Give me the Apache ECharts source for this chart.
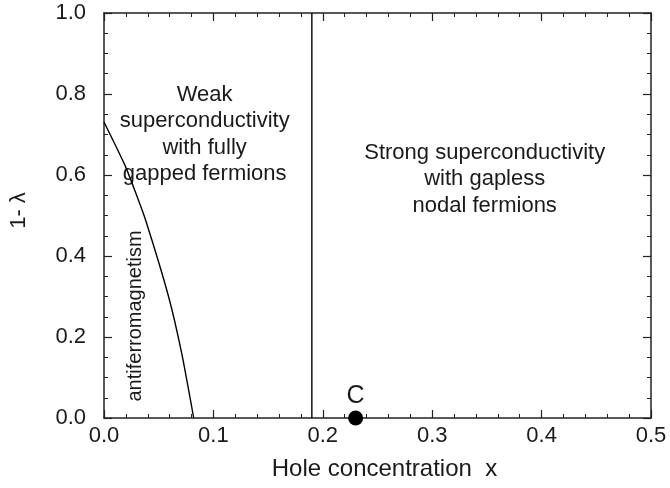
<!DOCTYPE html>
<html><head><meta charset="utf-8">
<script src="https://cdn.jsdelivr.net/npm/echarts@6/dist/echarts.min.js"></script>
<style>html,body{margin:0;padding:0;background:#fff}#c{width:670px;height:488px}</style>
</head><body><div id="c"></div>
<script>
// AF boundary curve (x, 1-lambda)
const afX = [0.0, 0.019, 0.028, 0.038, 0.059, 0.071, 0.082];
const afY = [0.731, 0.625, 0.563, 0.489, 0.300, 0.160, 0.0];
// vertical boundary
const boundaryX = 0.19;
const boundaryY = [0, 1];
// critical point
const pointC = [0.23, 0.0];
const pointCLabel = "C";
// annotations
const annoText = ["Weak\nsuperconductivity\nwith fully\ngapped fermions", "Strong superconductivity\nwith gapless\nnodal fermions"];
const annoPos = [[0.092, 0.700], [0.348, 0.590]];
const afLabel = "antiferromagnetism";
const afLabelPos = [0.029, 0.252];
const xTicks = [0, 0.1, 0.2, 0.3, 0.4, 0.5];
const yTicks = [0, 0.2, 0.4, 0.6, 0.8, 1.0];

const FONT = "Liberation Sans, Arial, sans-serif";
const TXT = '#1a1a1a';
const chart = echarts.init(document.getElementById('c'));
const axisCommon = {
  type: 'value',
  axisLine: {show: true, onZero: false, lineStyle: {color: '#222', width: 1.5}},
  axisTick: {show: true, inside: true, length: 8, lineStyle: {color: '#222', width: 1.2}},
  minorTick: {show: true, length: 4, lineStyle: {color: '#222', width: 1}},
  splitLine: {show: false}
};
chart.setOption({
  animation: false,
  grid: {left: 102, right: 19, top: 13, bottom: 70},
  xAxis: [
    Object.assign({}, axisCommon, {
      min: xTicks[0], max: xTicks[xTicks.length-1], interval: 0.1, position: 'bottom',
      minorTick: Object.assign({}, axisCommon.minorTick, {splitNumber: 5}),
      axisLabel: {fontSize: 22, color: TXT, fontFamily: FONT, margin: 7, formatter: v => v.toFixed(1)},
      name: 'Hole concentration  x', nameLocation: 'middle', nameGap: 39,
      nameTextStyle: {fontSize: 24, color: TXT, fontFamily: FONT, padding: [0, 0, 0, 14]}
    }),
    Object.assign({}, axisCommon, {
      min: 0, max: 0.5, interval: 0.1, position: 'top',
      minorTick: Object.assign({}, axisCommon.minorTick, {splitNumber: 5}),
      axisLabel: {show: false}
    })
  ],
  yAxis: [
    Object.assign({}, axisCommon, {
      min: yTicks[0], max: yTicks[yTicks.length-1], interval: 0.2, position: 'left',
      minorTick: Object.assign({}, axisCommon.minorTick, {splitNumber: 4}),
      axisLabel: {fontSize: 22, color: TXT, fontFamily: FONT, margin: 18, formatter: v => v.toFixed(1)},
      name: '1- λ', nameLocation: 'middle', nameGap: 74, nameRotate: 90,
      nameTextStyle: {fontSize: 22, color: TXT, fontFamily: FONT, padding: [0, 0, 0, 10]}
    }),
    Object.assign({}, axisCommon, {
      min: 0, max: 1, interval: 0.2, position: 'right',
      minorTick: Object.assign({}, axisCommon.minorTick, {splitNumber: 4}),
      axisLabel: {show: false}
    })
  ],
  series: [
    {type: 'line', data: afX.map((x, i) => [x, afY[i]]), symbol: 'none', smooth: 0.2,
     lineStyle: {color: '#000', width: 1.4}},
    {type: 'line', data: boundaryY.map(y => [boundaryX, y]), symbol: 'none',
     lineStyle: {color: '#000', width: 1.4}},
    {type: 'scatter', data: [pointC], symbolSize: 15, clip: false,
     itemStyle: {color: '#000', opacity: 1}, z: 5,
     label: {show: true, position: 'top', distance: 2, formatter: pointCLabel, fontSize: 25, color: TXT, opacity: 1, fontFamily: FONT}},
    {type: 'scatter', data: annoPos.map((p, i) => ({value: p, name: annoText[i]})), symbolSize: 0,
     itemStyle: {opacity: 1},
     label: {show: true, position: 'inside', formatter: p => p.name, fontSize: 22, lineHeight: 26.5, align: 'center', color: TXT, opacity: 1, fontFamily: FONT}},
    {type: 'scatter', data: [{value: afLabelPos, name: afLabel}], symbolSize: 0,
     itemStyle: {opacity: 1},
     label: {show: true, position: 'inside', rotate: 90, formatter: p => p.name, fontSize: 20, color: TXT, opacity: 1, fontFamily: FONT}}
  ]
});
</script></body></html>
